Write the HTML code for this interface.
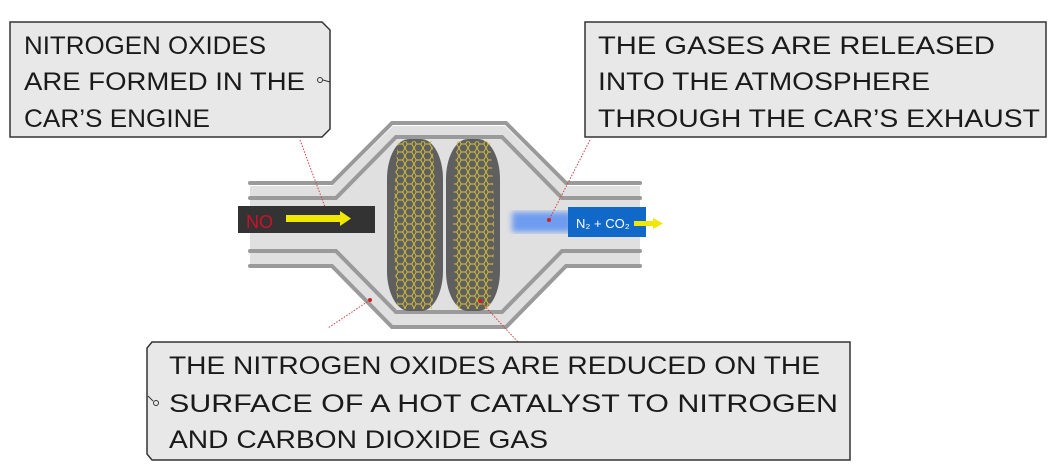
<!DOCTYPE html>
<html><head><style>
html,body{margin:0;padding:0;background:#fff;width:1053px;height:472px;overflow:hidden}
svg text{font-family:"Liberation Sans",sans-serif;font-size:25px;fill:#1a1a1a}
</style></head><body>
<svg width="1053" height="472" viewBox="0 0 1053 472" xmlns="http://www.w3.org/2000/svg">
<defs>
<pattern id="hex" width="9" height="8" patternUnits="userSpaceOnUse">
<path d="M0 4 L2.2 0 L6.7 0 L9 4 L6.7 8 L2.2 8 Z" fill="none" stroke="#d8c23a" stroke-width="0.9"/>
</pattern>
<filter id="bl"><feGaussianBlur stdDeviation="3"/></filter>
<clipPath id="d1"><path d="M398 141 L432 141 Q440 225 432 309 L398 309 Q390 225 398 141 Z"/></clipPath>
<clipPath id="d2"><path d="M457 141 L490 141 Q498 225 490 309 L457 309 Q449 225 457 141 Z"/></clipPath>
</defs>
<!-- catalytic converter body -->
<path d="M250 186 L332 186 L393 126 L505 126 L566 186 L640 186 L640 266 L566 266 L505 327 L393 327 L332 266 L250 266 Z" fill="#e0e0e0"/>
<g fill="none" stroke="#9a9a9a" stroke-width="4" stroke-linecap="round">
<path d="M250 183 L332 183 L392 123 L506 123 L566 183 L640 183"/>
<path d="M250 198 L336 198 L396 137 L502 137 L562 198 L640 198"/>
<path d="M250 251 L336 251 L396 312 L502 312 L562 251 L640 251"/>
<path d="M250 266 L332 266 L392 327 L506 327 L566 266 L640 266"/>
</g>
<!-- discs -->
<rect x="387" y="139" width="56" height="172" rx="22" ry="40" fill="#5f5f5f"/>
<rect x="446" y="139" width="54" height="172" rx="22" ry="40" fill="#5f5f5f"/>
<rect x="385" y="139" width="60" height="172" fill="url(#hex)" clip-path="url(#d1)"/>
<rect x="444" y="139" width="60" height="172" fill="url(#hex)" clip-path="url(#d2)"/>
<!-- NO box -->
<rect x="238" y="206" width="137" height="27" fill="#333"/>
<text x="246" y="228" style="font-size:18px;fill:#d0102a">NO</text>
<rect x="286" y="215" width="56" height="7" fill="#f0e800"/>
<path d="M340 211 L351 218.5 L340 226 Z" fill="#f0e800"/>
<!-- blue -->
<rect x="512" y="212" width="60" height="20" fill="#6f9cf0" filter="url(#bl)"/>
<rect x="568" y="207" width="78" height="30" fill="#1068c8"/>
<text x="576" y="228" style="font-size:13px;fill:#fff">N₂ + CO₂</text>
<rect x="634" y="221" width="20" height="5" fill="#f0e800"/>
<path d="M653 218 L663 223.5 L653 229 Z" fill="#f0e800"/>
<!-- leader lines -->
<g stroke="#c44" stroke-width="1" stroke-dasharray="1.5 1.5" fill="none">
<line x1="300" y1="140" x2="325" y2="207"/>
<line x1="590" y1="140" x2="549" y2="220"/>
<line x1="370" y1="300" x2="328" y2="328"/>
<line x1="480" y1="301" x2="518" y2="342"/>
</g>
<circle cx="549" cy="220" r="2" fill="#c22"/>
<circle cx="370" cy="300" r="2" fill="#c22"/>
<circle cx="480" cy="301" r="2" fill="#c22"/>
<!-- box1 -->
<path d="M10 22 L322 22 L330 30 L330 129 L322 137 L10 137 Z" fill="#e8e8e8" stroke="#333" stroke-width="1.5"/>
<text x="24" y="54" textLength="242" lengthAdjust="spacingAndGlyphs">NITROGEN OXIDES</text>
<text x="24" y="90" textLength="281" lengthAdjust="spacingAndGlyphs">ARE FORMED IN THE</text>
<text x="24" y="127" textLength="186" lengthAdjust="spacingAndGlyphs">CAR’S ENGINE</text>
<circle cx="320" cy="80" r="2.5" fill="none" stroke="#333"/>
<line x1="323" y1="80" x2="330" y2="82" stroke="#333"/>
<!-- box2 -->
<path d="M585 22 L1046 22 L1046 137 L585 137 Z" fill="#e8e8e8" stroke="#333" stroke-width="1.5"/>
<text x="598" y="54" textLength="397" lengthAdjust="spacingAndGlyphs">THE  GASES ARE  RELEASED</text>
<text x="598" y="90" textLength="332" lengthAdjust="spacingAndGlyphs">INTO THE ATMOSPHERE</text>
<text x="598" y="127" textLength="442" lengthAdjust="spacingAndGlyphs">THROUGH THE CAR’S EXHAUST</text>
<!-- box3 -->
<path d="M152 342 L850 342 L850 460 L152 460 L147 454 L147 348 Z" fill="#e8e8e8" stroke="#333" stroke-width="1.5"/>
<text x="169" y="374" textLength="651" lengthAdjust="spacingAndGlyphs">THE NITROGEN OXIDES ARE REDUCED ON THE</text>
<text x="169" y="412" textLength="669" lengthAdjust="spacingAndGlyphs">SURFACE OF A HOT  CATALYST TO NITROGEN</text>
<text x="169" y="448" textLength="379" lengthAdjust="spacingAndGlyphs">AND CARBON DIOXIDE GAS</text>
<circle cx="156" cy="403" r="2.5" fill="none" stroke="#333"/>
<line x1="153" y1="401" x2="148" y2="396" stroke="#333"/>
</svg>
</body></html>
